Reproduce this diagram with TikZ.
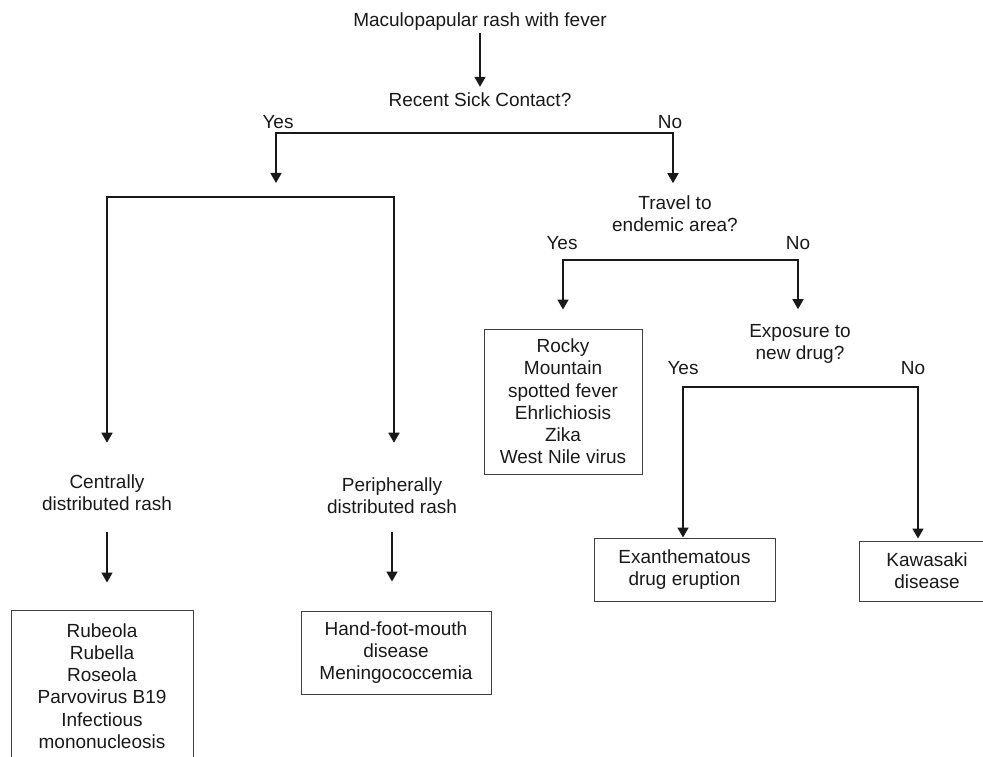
\documentclass[tikz,border=0pt]{standalone}
\usepackage{fontspec}
\setmainfont{Liberation Sans}
\usetikzlibrary{arrows.meta}
\tikzset{
  txt/.style={align=center, inner sep=0pt, text=black!90, font=\fontsize{19}{22.2}\selectfont},
  box/.style={txt, draw=black!75, line width=0.9pt},
  arr/.style={line width=1.6pt, draw=black!90, -{Triangle[length=10pt,width=11pt]}},
}

\begin{document}
\begin{tikzpicture}[x=1pt,y=-1pt]
		\useasboundingbox (0,0) rectangle (983,757);
		\clip (0,0) rectangle (983,757);

		\node[txt] (rash) at (480,22) {Maculopapular rash with fever};
		\node[txt] (sick) at (480,100) {Recent Sick Contact?};
		\node[txt] (yes1) at (278,122) {Yes};
		\node[txt] (no1) at (670,122) {No};
		\node[txt] (trav) at (675,213.5) {Travel to\\endemic area?};
		\node[txt] (yes2) at (562,243) {Yes};
		\node[txt] (no2) at (798,243) {No};
		\node[txt] (expo) at (800,344) {Exposure to\\new drug?};
		\node[txt] (yes3) at (683,368) {Yes};
		\node[txt] (no3) at (913,368) {No};
		\node[txt] (cen) at (107,493) {Centrally\\distributed rash};
		\node[txt] (per) at (392,496) {Peripherally\\distributed rash};

		\node[box, minimum width=182pt, minimum height=152pt] (rub) at (102,686) {Rubeola\\Rubella\\Roseola\\Parvovirus B19\\Infectious\\mononucleosis};
		\node[box, minimum width=190pt, minimum height=83pt] (hand) at (396,652.5) {Hand-foot-mouth\\disease\\Meningococcemia};
		\node[box, minimum width=158pt, minimum height=145pt] (rocky) at (563,401.5) {Rocky\\Mountain\\spotted fever\\Ehrlichiosis\\Zika\\West Nile virus};
		\node[box, minimum width=181pt, minimum height=63pt] (exan) at (684.5,569.5) {Exanthematous\\drug eruption};
		\node[box, minimum width=136pt, minimum height=60pt] (kawa) at (927,571) {Kawasaki\\disease};

		\coordinate (j1l) at (276,133);
		\coordinate (j1r) at (673,133);
		\coordinate (j1tip) at (276,183);
		\coordinate (j2l) at (107,197);
		\coordinate (j2r) at (394,197);
		\coordinate (j3l) at (563,260);
		\coordinate (j3r) at (798,260);
		\coordinate (j4l) at (683,387);
		\coordinate (j4r) at (918,387);

		\draw[arr, shorten <=2pt, shorten >=6pt] (rash) -- (sick);
		\draw[arr] (j1r) -- (j1l) -- (j1tip);
		\draw[arr, shorten >=12pt] (j1l) -- (j1r) -- (j1r |- trav.north);
		\draw[arr, shorten >=32pt] (j2r) -- (j2l) -- (cen.north);
		\draw[arr, shorten >=35pt] (j2l) -- (j2r) -- (j2r |- per.north);
		\draw[arr, shorten <=21pt, shorten >=27pt] (cen.south) -- (cen.south |- rub.north);
		\draw[arr, shorten <=18pt, shorten >=29pt] (per.south) -- (per.south |- hand.north);
		\draw[arr, shorten >=19pt] (j3r) -- (j3l) -- (rocky.north);
		\draw[arr, shorten >=15pt] (j3l) -- (j3r) -- (j3r |- expo.north);
		\draw[arr] (j4r) -- (j4l) -- (j4l |- exan.north);
		\draw[arr, shorten >=2pt] (j4l) -- (j4r) -- (j4r |- kawa.north);
	\end{tikzpicture}
\end{document}
